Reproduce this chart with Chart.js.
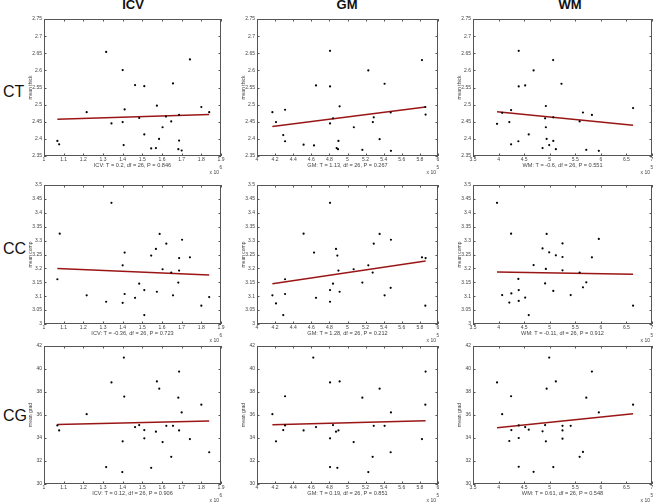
<!DOCTYPE html>
<html>
<head>
<meta charset="utf-8">
<script src="https://cdn.jsdelivr.net/npm/chart.js@4.4.1/dist/chart.umd.min.js"></script>
<style>
html, body { margin: 0; padding: 0; overflow: hidden; background: #fff; }
body { width: 655px; height: 504px; position: relative; font-family: "Liberation Sans", Arial, sans-serif; }
.head { position: absolute; top: -2px; font-size: 13px; line-height: 13px; font-weight: bold; color: #111; transform: translateX(-50%); }
.rowlab { position: absolute; left: 3px; font-size: 16px; line-height: 16px; color: #111; }
canvas { position: absolute; }
</style>
</head>
<body>
<div class="head" style="left:133px">ICV</div>
<div class="head" style="left:347px">GM</div>
<div class="head" style="left:570px">WM</div>
<div class="rowlab" style="top:84px">CT</div>
<div class="rowlab" style="top:241px">CC</div>
<div class="rowlab" style="top:408px">CG</div>

<script>
// axis setup per column / row
const colNames = ['ICV', 'GM', 'WM'];
const xMin = [1, 4, 3.5];
const xMax = [1.9, 6, 7];
const xStep = [0.1, 0.2, 0.5];
const xExp = ['6', '5', '5'];

const yMin = [2.35, 3, 30];
const yMax = [2.75, 3.5, 42];
const yStep = [0.05, 0.05, 2];
const yTitles = ['mean thick', 'mean comp', 'mean grad'];

const statText = [
    ['ICV: T = 0.2, df = 26, P = 0.846', 'GM: T = 1.13, df = 26, P = 0.267', 'WM: T = -0.6, df = 26, P = 0.551'],
    ['ICV: T = -0.36, df = 26, P = 0.723', 'GM: T = 1.28, df = 26, P = 0.212', 'WM: T = -0.11, df = 26, P = 0.912'],
    ['ICV: T = 0.12, df = 26, P = 0.906', 'GM: T = 0.19, df = 26, P = 0.851', 'WM: T = 0.61, df = 26, P = 0.548']
];

// CT row
const ctIcvX = [1.316,1.40,1.463,1.51,1.742,1.656,1.574,1.41,1.217,1.80,1.84,1.62,1.687,1.484,1.343,1.40,1.647,1.603,1.51,1.585,1.068,1.077,1.405,1.545,1.569,1.683,1.70,1.687];
const ctIcvY = [2.654,2.601,2.557,2.554,2.632,2.562,2.497,2.486,2.478,2.493,2.478,2.465,2.47,2.461,2.445,2.449,2.451,2.434,2.413,2.40,2.394,2.384,2.382,2.372,2.373,2.37,2.366,2.395];
const ctIcvFit = [2.457, 2.471];

const ctGmX = [4.807,5.823,5.23,5.41,4.652,4.807,4.17,4.31,4.913,5.86,5.863,5.477,4.21,4.807,4.84,5.29,5.28,5.07,4.29,4.31,4.90,5.355,4.515,4.63,4.88,4.895,5.164,5.48];
const ctGmY = [2.657,2.63,2.60,2.561,2.556,2.553,2.478,2.485,2.495,2.493,2.471,2.477,2.449,2.445,2.46,2.463,2.449,2.434,2.411,2.393,2.394,2.399,2.383,2.381,2.373,2.37,2.368,2.365];
const ctGmFit = [2.436, 2.493];

const ctWmX = [4.394,5.067,4.685,5.23,4.394,4.52,4.925,6.63,4.245,4.07,3.97,4.21,4.91,5.07,5.65,5.825,5.585,4.925,4.59,4.94,5.07,4.387,4.245,4.99,4.86,5.12,5.715,5.96];
const ctWmY = [2.657,2.63,2.60,2.561,2.553,2.556,2.496,2.49,2.484,2.476,2.444,2.449,2.46,2.463,2.477,2.47,2.451,2.434,2.413,2.40,2.394,2.393,2.384,2.382,2.373,2.37,2.368,2.365];
const ctWmFit = [2.479, 2.44];

// CC row
const ccIcvX = [1.343,1.08,1.588,1.702,1.622,1.569,1.41,1.545,1.742,1.687,1.40,1.603,1.687,1.647,1.068,1.484,1.683,1.574,1.51,1.217,1.41,1.463,1.656,1.316,1.40,1.84,1.80,1.51];
const ccIcvY = [3.436,3.325,3.324,3.303,3.289,3.27,3.257,3.246,3.24,3.237,3.211,3.197,3.192,3.185,3.161,3.145,3.149,3.116,3.122,3.103,3.108,3.094,3.103,3.08,3.076,3.097,3.066,3.032];
const ccIcvFit = [3.2, 3.176];

const ccGmX = [4.807,4.515,5.355,5.48,5.29,4.873,4.63,4.888,5.823,5.863,5.23,5.068,4.90,5.278,4.31,4.84,5.164,4.17,4.31,4.807,4.913,5.477,4.652,5.41,4.21,4.807,4.29,5.86];
const ccGmY = [3.436,3.325,3.324,3.303,3.289,3.27,3.257,3.246,3.24,3.237,3.211,3.197,3.192,3.185,3.161,3.145,3.149,3.103,3.108,3.122,3.116,3.13,3.094,3.103,3.074,3.08,3.032,3.066];
const ccGmFit = [3.145, 3.227];

const ccWmX = [3.97,4.245,4.94,5.96,5.25,4.86,4.99,5.12,5.25,5.825,4.685,4.925,5.25,5.585,4.387,4.91,5.715,4.394,4.25,5.07,5.65,4.07,4.52,5.41,4.21,4.394,4.59,6.63];
const ccWmY = [3.436,3.325,3.324,3.306,3.29,3.272,3.258,3.247,3.241,3.24,3.212,3.198,3.193,3.185,3.162,3.146,3.15,3.122,3.11,3.119,3.132,3.104,3.095,3.104,3.077,3.083,3.032,3.066];
const ccWmFit = [3.187, 3.179];

// CG row
const cgIcvX = [1.406,1.687,1.343,1.574,1.586,1.408,1.683,1.80,1.217,1.70,1.068,1.077,1.463,1.484,1.51,1.51,1.569,1.622,1.656,1.687,1.40,1.603,1.742,1.647,1.84,1.316,1.545,1.398];
const cgIcvY = [40.99,39.78,38.83,38.92,38.29,37.6,37.51,36.9,36.07,36.22,35.09,34.66,34.95,35.12,34.69,33.97,34.55,35.06,35.06,34.66,33.71,33.65,33.91,32.36,32.76,31.47,31.41,31.04];
const cgIcvFit = [35.18, 35.47];

const cgGmX = [4.622,5.863,4.807,4.913,5.355,4.31,5.164,5.86,4.17,5.48,4.31,4.29,4.515,4.652,4.84,4.873,4.90,5.29,5.41,4.807,4.21,5.068,5.823,5.278,5.477,4.807,4.888,5.23];
const cgGmY = [40.99,39.78,38.83,38.92,38.29,37.63,37.51,36.9,36.07,36.22,35.09,34.69,34.66,34.95,35.12,34.55,34.66,35.06,35.06,33.97,33.71,33.65,33.91,32.36,32.76,31.47,31.41,31.04];
const cgGmFit = [35.15, 35.5];

const cgWmX = [4.99,5.825,3.97,5.12,4.94,4.245,5.715,6.63,4.07,5.96,4.394,4.25,4.52,4.59,4.91,4.86,5.25,5.25,5.41,4.21,4.394,4.925,5.25,5.585,5.65,4.394,5.07,4.685];
const cgWmY = [40.99,39.78,38.83,38.92,38.29,37.63,37.51,36.9,36.07,36.22,35.09,34.69,34.95,34.72,35.12,34.58,35.06,34.66,35.06,33.74,34.0,33.71,33.94,32.36,32.79,31.5,31.47,31.06];
const cgWmFit = [34.89, 36.1];

const panelX = [[ctIcvX, ctGmX, ctWmX], [ccIcvX, ccGmX, ccWmX], [cgIcvX, cgGmX, cgWmX]];
const panelY = [[ctIcvY, ctGmY, ctWmY], [ccIcvY, ccGmY, ccWmY], [cgIcvY, cgGmY, cgWmY]];
const panelFit = [[ctIcvFit, ctGmFit, ctWmFit], [ccIcvFit, ccGmFit, ccWmFit], [cgIcvFit, cgGmFit, cgWmFit]];

// plot box placement on the page
const colLeft = [44, 257, 473];
const colRight = [221, 438, 652];
const rowTop = [19, 185, 346];
const rowBottom = [156, 324, 484];
const YW = 16, XH = 13, PT = 8, PR = 8, PB = 8;

const FONT = '"Liberation Sans", Arial, sans-serif';
Chart.defaults.font.family = FONT;
Chart.defaults.font.size = 5;
Chart.defaults.color = '#444';

// matlab-ish box with inward ticks and the "x 10^n" note
const boxPlugin = {
    id: 'box',
    afterDraw(chart, args, opts) {
        const {ctx, chartArea: a, scales: {x, y}} = chart;
        ctx.save();
        ctx.strokeStyle = '#555';
        ctx.lineWidth = 1;
        ctx.strokeRect(a.left + 0.5, a.top + 0.5, a.width - 1, a.height - 1);
        ctx.beginPath();
        x.ticks.forEach(t => {
            const px = Math.round(x.getPixelForValue(t.value)) + 0.5;
            ctx.moveTo(px, a.bottom); ctx.lineTo(px, a.bottom - 2.5);
            ctx.moveTo(px, a.top); ctx.lineTo(px, a.top + 2.5);
        });
        y.ticks.forEach(t => {
            const py = Math.round(y.getPixelForValue(t.value)) + 0.5;
            ctx.moveTo(a.left, py); ctx.lineTo(a.left + 2.5, py);
            ctx.moveTo(a.right, py); ctx.lineTo(a.right - 2.5, py);
        });
        ctx.stroke();
        ctx.fillStyle = '#444';
        ctx.font = '5px ' + FONT;
        ctx.textAlign = 'right';
        ctx.fillText('x 10', a.right - 2, a.bottom + 18);
        ctx.font = '4.5px ' + FONT;
        ctx.textAlign = 'left';
        ctx.fillText(opts.exp, a.right - 1.5, a.bottom + 13);
        ctx.restore();
    }
};

function makePanel(r, c) {
    const canvas = document.createElement('canvas');
    const w = colRight[c] - colLeft[c] + YW + PR;
    const h = rowBottom[r] - rowTop[r] + PT + XH + PB;
    canvas.width = w;
    canvas.height = h;
    canvas.style.left = (colLeft[c] - YW) + 'px';
    canvas.style.top = (rowTop[r] - PT) + 'px';
    document.body.appendChild(canvas);

    const xs = panelX[r][c], ys = panelY[r][c], fit = panelFit[r][c];
    const pts = xs.map((v, i) => ({x: v, y: ys[i]}));
    const x0 = Math.min(...xs), x1 = Math.max(...xs);

    new Chart(canvas.getContext('2d'), {
        type: 'scatter',
        data: {
            datasets: [{
                data: pts,
                backgroundColor: '#000',
                borderWidth: 0,
                pointRadius: 1.1
            }, {
                data: [{x: x0, y: fit[0]}, {x: x1, y: fit[1]}],
                showLine: true,
                borderColor: '#9a1616',
                borderWidth: 1.5,
                pointRadius: 0
            }]
        },
        options: {
            responsive: false,
            animation: false,
            devicePixelRatio: 1,
            layout: { padding: { left: 0, top: PT, right: PR, bottom: PB } },
            plugins: {
                legend: { display: false },
                tooltip: { enabled: false },
                box: { exp: xExp[c] }
            },
            scales: {
                x: {
                    min: xMin[c], max: xMax[c],
                    grid: { display: false, drawTicks: false },
                    border: { display: false },
                    ticks: {
                        stepSize: xStep[c], padding: 0.5, autoSkip: false, maxRotation: 0,
                        callback: v => String(Math.round(v * 1000) / 1000)
                    },
                    title: { display: true, text: statText[r][c], padding: 0, font: { size: 5.6 } },
                    afterFit: s => { s.height = XH; }
                },
                y: {
                    min: yMin[r], max: yMax[r],
                    grid: { display: false, drawTicks: false },
                    border: { display: false },
                    ticks: {
                        stepSize: yStep[r], padding: 2, autoSkip: false,
                        callback: v => String(Math.round(v * 1000) / 1000)
                    },
                    title: { display: true, text: yTitles[r], padding: 0, font: { size: 5 } },
                    afterFit: s => { s.width = YW; }
                }
            }
        },
        plugins: [boxPlugin]
    });
}

for (let r = 0; r < 3; r++) {
    for (let c = 0; c < 3; c++) {
        makePanel(r, c);
    }
}
</script>
</body>
</html>
